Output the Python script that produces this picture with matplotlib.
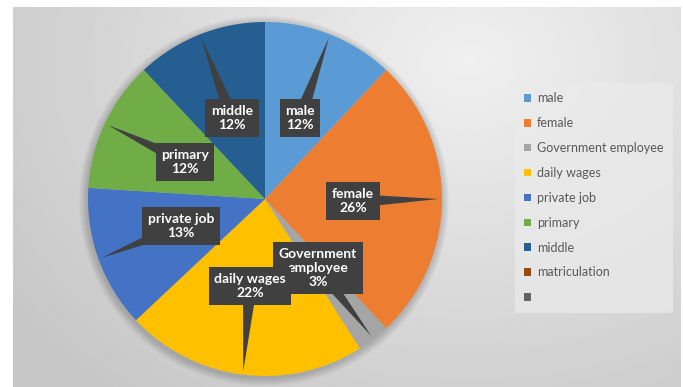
import numpy as np
import matplotlib
matplotlib.use('Agg')
import matplotlib.pyplot as plt
from matplotlib.patches import Circle, Polygon

# share of respondents per category (%)
categories = ['male', 'female', 'Government employee', 'daily wages',
              'private job', 'primary', 'middle', 'matriculation', '']
percent = [12, 26, 3, 22, 13, 12, 12, 0, 0]
colors = ['#5B9BD5', '#ED7D31', '#A5A5A5', '#FFC000', '#4472C4',
          '#70AD47', '#255E91', '#9E480E', '#636363']

# text inside the callout boxes (only the non-empty slices get one)
callout_names = ['male', 'female', 'Government\nemployee', 'daily wages',
                 'private job', 'primary', 'middle']
# box centres in pixels from the top-left corner
callout_pos = [(300, 118), (353, 201), (318, 268), (250, 286),
               (181, 226), (185, 162), (232, 118)]

W, H = 683, 387
fig = plt.figure(figsize=(W / 100, H / 100), dpi=100)
ax = fig.add_axes([0, 0, 1, 1])

# chart area with a soft radial gray fill
gx, gy = np.meshgrid(np.linspace(13, W - 2, 300), np.linspace(H - 7, 0, 200))
dist = np.hypot(gx - 470, (gy - (H - 60)) * 1.3)
shade = np.clip(0.94 - dist / 560 * 0.16, 0.78, 0.94)
ax.imshow(shade, cmap='gray', vmin=0, vmax=1, extent=(13, W - 2, 0, H - 7),
          aspect='auto', zorder=0, interpolation='bilinear')

cx, cy, R = 265, H - 199, 177

# faint shadow under the pie
for k in range(8):
    ax.add_patch(Circle((cx - 1, cy - 2), R + 1 + k, color='black',
                        alpha=0.025, lw=0, zorder=1))

wedges, _ = ax.pie(percent, colors=colors, startangle=90, counterclock=False,
                   center=(cx, cy), radius=R, frame=True,
                   wedgeprops=dict(linewidth=0))
for w in wedges:
    w.set_zorder(2)
ax.set_xlim(0, W)
ax.set_ylim(0, H)
ax.set_aspect('equal')
ax.axis('off')

# callouts: dark box plus a tail pointing at the slice's outer edge
for i, (name, (px, py)) in enumerate(zip(callout_names, callout_pos)):
    w = wedges[i]
    mid = np.deg2rad((w.theta1 + w.theta2) / 2)
    tip = (cx + 0.98 * R * np.cos(mid), cy + 0.98 * R * np.sin(mid))
    bx, by = px, H - py
    d = np.array([tip[0] - bx, tip[1] - by])
    n = np.array([-d[1], d[0]]) / np.hypot(*d)
    tail = Polygon([tip, (bx + 7 * n[0], by + 7 * n[1]),
                    (bx - 7 * n[0], by - 7 * n[1])],
                   closed=True, fc='#404040', ec='none', zorder=3 + 2 * i)
    ax.add_patch(tail)
    ax.text(bx, by, f'{name}\n{percent[i]}%', ha='center', va='center',
            color='white', fontsize=10, fontweight='bold', family='Lato',
            linespacing=1.2, zorder=4 + 2 * i,
            bbox=dict(boxstyle='square,pad=0.4', fc='#404040', ec='none'))

leg = ax.legend(wedges, categories, loc='upper left',
                bbox_to_anchor=(515 / W, 1 - 83 / H), frameon=True,
                prop=dict(family='Lato', size=9), labelcolor='#595959',
                handlelength=0.55, handleheight=0.55, handletextpad=0.45,
                labelspacing=1.03, borderpad=0.75, borderaxespad=0)
leg.get_frame().set_facecolor('#ebebeb')
leg.get_frame().set_edgecolor('none')
leg.get_frame().set_alpha(0.7)
leg.get_frame().set_boxstyle('square', pad=0)
leg.set_zorder(30)

fig.savefig('out.png', dpi=100)
